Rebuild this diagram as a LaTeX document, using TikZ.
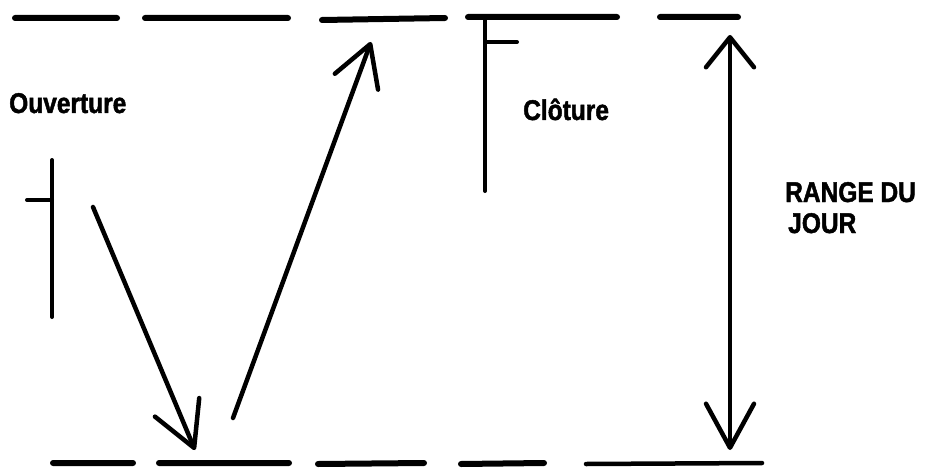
\documentclass[tikz,border=0pt]{standalone}
\usepackage{fontspec}
\setmainfont{Liberation Sans}
\newfontfamily\labelfont[FakeStretch=0.86, FakeBold=1.6]{Liberation Sans}
\usetikzlibrary{arrows.meta}

\begin{document}
\begin{tikzpicture}[
      x=1pt, y=-1pt,
      lbl/.style={font=\labelfont\bfseries\fontsize{28.5}{31}\selectfont,
        inner sep=0pt, anchor=base west},
      level/.style={line width=6pt, line cap=round},
      tick/.style={line width=4pt, line cap=round},
      barb/.tip={Straight Barb[length=44pt, width=48pt, round]},
      shortbarb/.tip={Straight Barb[length=30pt, width=48pt, round]},
      move/.style={line width=4.5pt, line cap=round, -barb}
    ]
    \useasboundingbox (0,0) rectangle (925,468);

    % top and bottom of the day
    \draw[level] (15,18) -- (117,18) (145,18) -- (288,18) (322,20) -- (445,18)
      (468,17) -- (617,17) (660,17) -- (738,17);
    \draw[level] (53,463) -- (133,463) (159,463) -- (289,463)
      (318,464) -- (424,463) (461,464) -- (544,463);
    \draw[level, line width=4.5pt] (586,464) -- (762,463);

    % open and close ticks
    \draw[tick] (52,160) -- (52,317) (27,200) -- (52,200);
    \draw[tick] (485,17) -- (485,191) (485,42) -- (517,42);

    \node[lbl] (open) at (9,113) {Ouverture};
    \node[lbl] (close) at (523,120) {Clôture};
    \node[lbl] (range) at (785,202) {RANGE DU};
    \node[lbl] (day) at (788,233) {JOUR};

    \coordinate (dstart) at (93,207);
    \coordinate (low) at (195,450);
    \coordinate (ustart) at (233,418);
    \coordinate (high) at (371,42);
    \coordinate (rtop) at (730,35);
    \coordinate (rbot) at (730,450);

    \draw[move] (dstart) -- (low);
    \draw[move, -{Straight Barb[length=40pt, width=46pt, round]}] (ustart) -- (high);
    \draw[move, shortbarb-barb] (rtop) -- (rbot);
  \end{tikzpicture}
\end{document}
